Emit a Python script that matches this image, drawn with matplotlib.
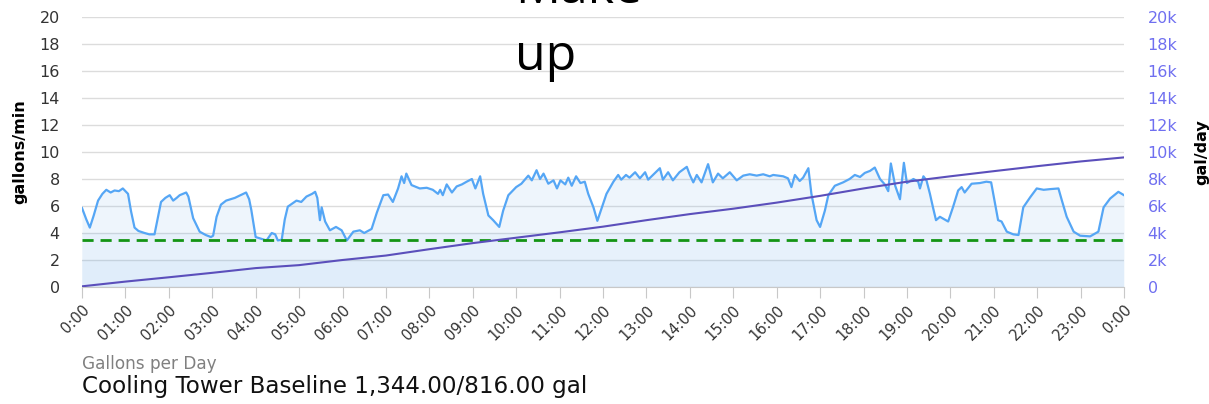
import matplotlib
matplotlib.use("Agg")
import matplotlib.pyplot as plt

# make-up water flow (gallons/min)
flow_hours = [
    0.00, 0.10, 0.18, 0.27, 0.37, 0.47, 0.56, 0.66, 0.75, 0.85, 0.94, 1.06, 1.13, 1.21, 1.30,
    1.44, 1.55, 1.67, 1.75, 1.82, 1.92, 2.02, 2.10, 2.18, 2.25, 2.40, 2.45, 2.56, 2.71, 2.85,
    2.97, 3.02, 3.10, 3.20, 3.32, 3.52, 3.65, 3.78, 3.85, 3.90, 4.00, 4.10, 4.25, 4.37, 4.45,
    4.51, 4.60, 4.67, 4.74, 4.85, 4.94, 5.05, 5.17, 5.30, 5.37, 5.42, 5.48, 5.52, 5.60, 5.71,
    5.85, 5.98, 6.10, 6.25, 6.40, 6.50, 6.67, 6.79, 6.94, 7.05, 7.16, 7.28, 7.36, 7.42, 7.47,
    7.59, 7.78, 7.94, 8.08, 8.20, 8.25, 8.31, 8.40, 8.52, 8.63, 8.75, 8.86, 8.98, 9.06, 9.17,
    9.24, 9.36, 9.47, 9.61, 9.70, 9.82, 10.00, 10.12, 10.28, 10.36, 10.47, 10.55, 10.63, 10.74,
    10.86, 10.94, 11.02, 11.13, 11.20, 11.28, 11.38, 11.48, 11.58, 11.66, 11.78, 11.87, 11.97,
    12.08, 12.24, 12.35, 12.42, 12.53, 12.61, 12.74, 12.85, 12.97, 13.04, 13.15, 13.31, 13.38,
    13.50, 13.61, 13.76, 13.93, 14.00, 14.08, 14.16, 14.27, 14.42, 14.53, 14.65, 14.76, 14.92,
    15.08, 15.23, 15.38, 15.54, 15.69, 15.84, 15.92, 16.15, 16.26, 16.34, 16.42, 16.53, 16.61,
    16.73, 16.80, 16.92, 17.00, 17.11, 17.19, 17.34, 17.53, 17.68, 17.80, 17.92, 18.03, 18.15,
    18.26, 18.38, 18.49, 18.57, 18.63, 18.73, 18.84, 18.93, 19.00, 19.15, 19.26, 19.30, 19.38,
    19.45, 19.53, 19.60, 19.67, 19.76, 19.95, 20.06, 20.18, 20.26, 20.33, 20.49, 20.68, 20.83,
    20.94, 21.03, 21.10, 21.18, 21.30, 21.45, 21.57, 21.68, 21.84, 21.99, 22.15, 22.30, 22.49,
    22.57, 22.68, 22.84, 22.99, 23.22, 23.41, 23.53, 23.68, 23.87, 24.00,
]
flow_gpm = [
    5.85, 5.0, 4.4, 5.3, 6.4, 6.9, 7.2, 7.0, 7.15, 7.1, 7.3, 6.9, 5.6, 4.4, 4.15,
    4.0, 3.9, 3.9, 5.2, 6.3, 6.6, 6.8, 6.4, 6.6, 6.8, 7.0, 6.7, 5.1, 4.1, 3.85,
    3.7, 3.8, 5.2, 6.1, 6.4, 6.6, 6.8, 7.0, 6.5, 5.7, 3.7, 3.6, 3.45, 4.0, 3.9,
    3.45, 3.5, 5.0, 5.95, 6.2, 6.4, 6.3, 6.7, 6.9, 7.05, 6.6, 4.95, 5.9, 4.85, 4.2,
    4.45, 4.2, 3.45, 4.1, 4.2, 4.0, 4.3, 5.5, 6.8, 6.85, 6.3, 7.3, 8.2, 7.7, 8.4,
    7.55, 7.3, 7.35, 7.2, 6.9, 7.2, 6.8, 7.6, 7.0, 7.45, 7.6, 7.8, 8.0, 7.3, 8.2,
    6.9, 5.3, 4.95, 4.45, 5.65, 6.8, 7.4, 7.65, 8.25, 7.9, 8.65, 8.0, 8.4, 7.65,
    7.9, 7.3, 7.9, 7.6, 8.1, 7.5, 8.2, 7.7, 7.8, 6.9, 5.9, 4.9, 5.85,
    6.9, 7.8, 8.3, 7.95, 8.3, 8.1, 8.5, 8.05, 8.5, 7.95, 8.3, 8.8, 7.95,
    8.5, 7.9, 8.5, 8.9, 8.3, 7.75, 8.3, 7.75, 9.1, 7.75, 8.4, 8.05, 8.5,
    7.9, 8.25, 8.35, 8.25, 8.35, 8.2, 8.3, 8.2, 8.05, 7.4, 8.3, 7.85, 8.1,
    8.8, 6.9, 4.95, 4.45, 5.65, 6.8, 7.5, 7.75, 8.0, 8.3, 8.15, 8.45, 8.6,
    8.85, 8.0, 7.6, 7.1, 9.15, 7.5, 6.5, 9.2, 7.7, 8.0, 7.8, 7.3, 8.2,
    7.9, 6.9, 5.9, 4.95, 5.2, 4.85, 5.9, 7.15, 7.4, 7.0, 7.65, 7.7, 7.8,
    7.75, 6.2, 4.95, 4.85, 4.1, 3.9, 3.85, 5.9, 6.65, 7.3, 7.2, 7.25, 7.3,
    6.4, 5.2, 4.1, 3.8, 3.75, 4.1, 5.9, 6.55, 7.05, 6.8,
]

# running total of gallons for the day (right axis)
total_hours = list(range(25))
total_gal = [
    50, 400, 720, 1050, 1400, 1620, 2000, 2330, 2800, 3250, 3650, 4050, 4470,
    4950, 5400, 5800, 6250, 6750, 7300, 7800, 8200, 8580, 8950, 9300, 9600,
]

baseline_gpm = 3.5
hour_labels = ["0:00"] + [f"{h:02d}:00" for h in range(1, 24)] + ["0:00"]
gal_day_ticks = list(range(0, 20001, 2000))
gal_day_labels = ["0"] + [f"{v // 1000}k" for v in gal_day_ticks[1:]]

FLOW_COLOR = "#55a6f5"
TOTAL_COLOR = "#5b4fbb"
BASE_COLOR = "#149414"
RIGHT_TICK_COLOR = "#6f6ff0"
GRID_COLOR = "#dcdcdc"

fig = plt.figure(figsize=(12.09, 4.04), dpi=100)
ax = fig.add_axes([82 / 1209, 1 - 287 / 404, (1124 - 82) / 1209, 270 / 404])

ax.fill_between(flow_hours, flow_gpm, color="#7cb5ec", alpha=0.13, linewidth=0)
ax.axhspan(0, 4, color="#7cb5ec", alpha=0.06, linewidth=0)
ax.axhspan(0, 2, color="#7cb5ec", alpha=0.06, linewidth=0)
ax.plot(flow_hours, flow_gpm, color=FLOW_COLOR, linewidth=1.6, zorder=3)
ax.axhline(baseline_gpm, color=BASE_COLOR, linestyle=(0, (4, 2.5)), linewidth=2, zorder=4)

ax.set_xlim(0, 24)
ax.set_ylim(0, 20)
ax.set_yticks(range(0, 21, 2))
ax.set_xticks(range(25))
ax.set_xticklabels(hour_labels, rotation=45, ha="right", rotation_mode="anchor", fontsize=10.5, color="#333333")
ax.tick_params(axis="x", length=8, color="#c8c8c8", pad=3)
ax.tick_params(axis="y", length=0, labelsize=11.5, labelcolor="#333333", pad=16)
ax.grid(axis="y", color=GRID_COLOR, linewidth=1)
ax.set_axisbelow(True)
for s in ["top", "left", "right"]:
    ax.spines[s].set_visible(False)
ax.spines["bottom"].set_color("#c8c8c8")
ax.set_ylabel("gallons/min", fontsize=11.5, fontweight="bold", labelpad=9)

ax2 = ax.twinx()
ax2.plot(total_hours, total_gal, color=TOTAL_COLOR, linewidth=1.5, zorder=5)
ax2.set_ylim(0, 20000)
ax2.set_yticks(gal_day_ticks)
ax2.set_yticklabels(gal_day_labels)
ax2.tick_params(axis="y", length=0, labelsize=11.5, labelcolor=RIGHT_TICK_COLOR, pad=17)
for s in ["top", "left", "right", "bottom"]:
    ax2.spines[s].set_visible(False)
ax2.set_ylabel("gal/day", fontsize=11.5, fontweight="bold", labelpad=12)

# chart title, partly cropped off the top like the screenshot
fig.text(515 / 1209, 1 - 3 / 404, "Make", fontsize=36, family="Open Sans", va="baseline", ha="left")
fig.text(515 / 1209, 1 - 70 / 404, "up", fontsize=36, family="Open Sans", va="baseline", ha="left")

fig.text(82 / 1209, 1 - 369 / 404, "Gallons per Day", fontsize=12.2, color="#808080", va="baseline")
fig.text(82 / 1209, 1 - 393 / 404, "Cooling Tower Baseline 1,344.00/816.00 gal", fontsize=16.6, color="#111111", va="baseline")

fig.savefig("out.png", dpi=100)
